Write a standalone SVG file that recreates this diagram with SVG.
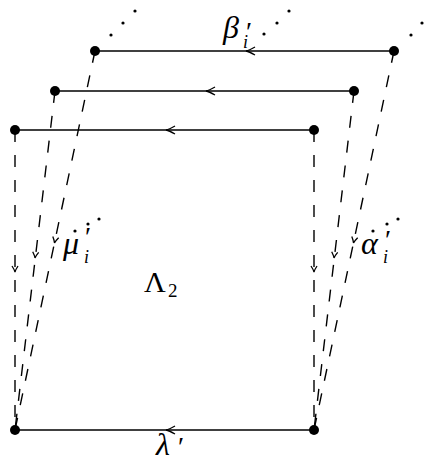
<svg xmlns="http://www.w3.org/2000/svg" width="432" height="459" viewBox="0 0 432 459">
<defs>
<style>
.s{stroke:#000;stroke-width:1.4;fill:none}
.d{stroke:#000;stroke-width:1.4;fill:none;stroke-dasharray:12 13}
.ah{stroke:#000;stroke-width:1.3;fill:none}
.n{fill:#000}
.t{font-family:"Liberation Serif","DejaVu Serif",serif;font-style:italic;fill:#000}
.u{font-family:"Liberation Serif","DejaVu Serif",serif;fill:#000}
.p{font-family:"Liberation Serif","DejaVu Serif",serif;font-size:28px;fill:#000}
</style>
<path id="ah" d="M -9,-4 Q -3,-0.6 0,0 Q -3,0.6 -9,4"/>
<path id="ahs" d="M -6,-3 Q -2,-0.4 0,0 Q -2,0.4 -6,3"/>
</defs>
<g id="connectors">
<line class="s" x1="95" y1="51" x2="394" y2="51"/>
<line class="s" x1="55" y1="91" x2="354" y2="91"/>
<line class="s" x1="15" y1="130" x2="314" y2="130"/>
<line class="s" x1="15" y1="430" x2="314" y2="430"/>
<use href="#ah" class="ah" transform="translate(246,51) rotate(180)"/>
<use href="#ah" class="ah" transform="translate(206,91) rotate(180)"/>
<use href="#ah" class="ah" transform="translate(166,130) rotate(180)"/>
<use href="#ah" class="ah" transform="translate(166,430) rotate(180)"/>
<line class="d" x1="15" y1="130" x2="15" y2="430"/>
<line class="d" x1="55" y1="91" x2="15" y2="430"/>
<line class="d" x1="95" y1="51" x2="15" y2="430"/>
<line class="d" x1="314" y1="130" x2="314" y2="430"/>
<line class="d" x1="354" y1="91" x2="314" y2="430"/>
<line class="d" x1="394" y1="51" x2="314" y2="430"/>
<use href="#ahs" class="ah" transform="translate(15,272) rotate(90)"/>
<use href="#ahs" class="ah" transform="translate(35,258) rotate(96.7)"/>
<use href="#ahs" class="ah" transform="translate(54.5,243) rotate(101.9)"/>
<use href="#ahs" class="ah" transform="translate(314,272) rotate(90)"/>
<use href="#ahs" class="ah" transform="translate(334,258) rotate(96.7)"/>
<use href="#ahs" class="ah" transform="translate(353.5,243) rotate(101.9)"/>
</g>
<g id="n-top-left"><circle class="n" cx="95" cy="51" r="5"/></g>
<g id="n-top-right"><circle class="n" cx="394" cy="51" r="5"/></g>
<g id="n-mid-left"><circle class="n" cx="55" cy="91" r="5"/></g>
<g id="n-mid-right"><circle class="n" cx="354" cy="91" r="5"/></g>
<g id="n-front-left"><circle class="n" cx="15" cy="130" r="5"/></g>
<g id="n-front-right"><circle class="n" cx="314" cy="130" r="5"/></g>
<g id="n-bottom-left"><circle class="n" cx="15" cy="430" r="5"/></g>
<g id="n-bottom-right"><circle class="n" cx="314" cy="430" r="5"/></g>
<g id="ellipses">
<circle class="n" cx="111" cy="35" r="1.6"/><circle class="n" cx="123" cy="23" r="1.6"/><circle class="n" cx="135" cy="11" r="1.6"/>
<circle class="n" cx="264" cy="34" r="1.6"/><circle class="n" cx="277" cy="23" r="1.6"/><circle class="n" cx="289" cy="11" r="1.6"/>
<circle class="n" cx="411" cy="35" r="1.6"/><circle class="n" cx="422" cy="23" r="1.6"/><circle class="n" cx="434" cy="11" r="1.6"/>
<circle class="n" cx="75" cy="231" r="1.6"/><circle class="n" cx="88" cy="224" r="1.6"/><circle class="n" cx="99" cy="219" r="1.6"/>
<circle class="n" cx="373" cy="231" r="1.6"/><circle class="n" cx="387" cy="224" r="1.6"/><circle class="n" cx="398" cy="219" r="1.6"/>
</g>
<g id="labels">
<text class="t" x="223" y="38" font-size="32">β</text>
<text class="p" x="246" y="41">′</text>
<text class="t" x="243" y="48" font-size="18">i</text>
<text class="t" x="63" y="254" font-size="32">μ</text>
<text class="p" x="85" y="246">′</text>
<text class="t" x="84" y="263" font-size="18">i</text>
<text class="t" x="361" y="254" font-size="32">α</text>
<text class="p" x="385" y="249">′</text>
<text class="t" x="383" y="263" font-size="18">i</text>
<text class="u" x="144" y="292" font-size="30">Λ</text>
<text class="u" x="168" y="297" font-size="19">2</text>
<text class="t" x="156" y="455" font-size="32">λ</text>
<text class="p" x="178" y="456">′</text>
</g>
</svg>
